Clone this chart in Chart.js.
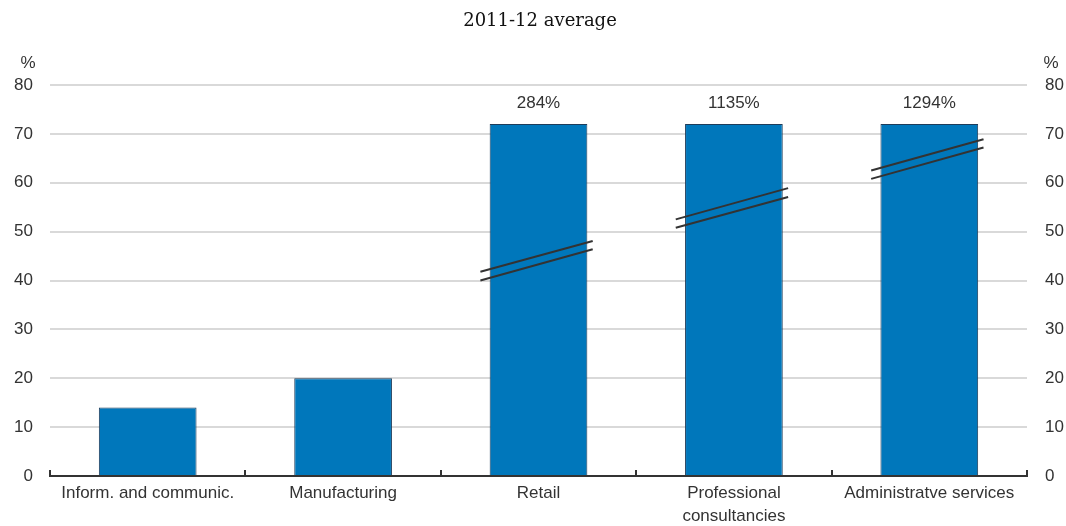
<!DOCTYPE html>
<html>
<head>
<meta charset="utf-8">
<script src="https://cdn.jsdelivr.net/npm/chart.js@4.4.1/dist/chart.umd.min.js"></script>
<style>
  html, body { margin: 0; padding: 0; background: #fff; }
  #wrap { width: 1066px; height: 526px; position: relative; }
</style>
</head>
<body>
<div id="wrap"><canvas id="c" width="1066" height="526"></canvas></div>
<script>
// ---- data ----
const categories = ['Inform. and communic.', 'Manufacturing', 'Retail', ['Professional', 'consultancies'], 'Administratve services'];
const values = [14, 20, 284, 1135, 1294];          // % (2011-12 average)
const axisCap = 72;                                  // bars above the axis are drawn truncated at this value
const yTicks = [0, 10, 20, 30, 40, 50, 60, 70, 80];
// break marks (y values at left and right end of each line), lower and upper line
const breakLower = [null, null, [40.0, 46.4], [50.8, 57.1], [60.8, 67.2]];
const breakUpper = [null, null, [41.8, 48.1], [52.5, 58.9], [62.5, 68.9]];
const subtitleText = '2011-12 average';
const unitLabel = '%';

const shownValues = values.map(v => Math.min(v, axisCap));
const FONT = '"Liberation Sans", Arial, sans-serif';
const FS = 17;
const TXT = '#333333';

const decor = {
  id: 'decor',
  afterDatasetsDraw(chart) {
    const ctx = chart.ctx;
    const x = chart.scales.x, y = chart.scales.y;
    const meta = chart.getDatasetMeta(0);
    ctx.save();
    // break marks
    ctx.strokeStyle = '#333333';
    ctx.lineWidth = 2;
    meta.data.forEach((bar, i) => {
      [breakLower[i], breakUpper[i]].forEach(seg => {
        if (!seg) return;
        const w = bar.width;
        const x0 = bar.x - w * 0.595, x1 = bar.x + w * 0.555;
        ctx.beginPath();
        ctx.moveTo(x0, y.getPixelForValue(seg[0]));
        ctx.lineTo(x1, y.getPixelForValue(seg[1]));
        ctx.stroke();
      });
    });
    // value labels for truncated bars
    ctx.fillStyle = TXT;
    ctx.font = FS + 'px ' + FONT;
    ctx.textAlign = 'center';
    ctx.textBaseline = 'middle';
    meta.data.forEach((bar, i) => {
      if (values[i] > axisCap) {
        ctx.fillText(values[i] + '%', bar.x, y.getPixelForValue(axisCap) - 21);
      }
    });
    // upward tick marks at category boundaries
    const n = categories.length;
    ctx.lineWidth = 2;
    for (let i = 0; i <= n; i++) {
      const px = Math.round(x.getPixelForValue(i - 0.5));
      ctx.beginPath();
      ctx.moveTo(px, chart.chartArea.bottom);
      ctx.lineTo(px, chart.chartArea.bottom - 6);
      ctx.stroke();
    }
    // unit labels
    ctx.textAlign = 'center';
    const ty = y.getPixelForValue(80) - 22;
    ctx.fillText(unitLabel, 28, ty);
    ctx.fillText(unitLabel, 1051, ty);
    ctx.restore();
  }
};

new Chart(document.getElementById('c'), {
  type: 'bar',
  data: {
    labels: categories,
    datasets: [{
      data: shownValues,
      backgroundColor: '#0077bb',
      borderColor: '#1e3c5a',
      borderWidth: 1,
      borderSkipped: 'bottom',
      barPercentage: 0.5,
      categoryPercentage: 1.0
    }]
  },
  options: {
    responsive: false,
    animation: false,
    devicePixelRatio: 1,
    layout: { padding: { left: 14, right: 0, top: 0, bottom: 0 } },
    plugins: {
      legend: { display: false },
      tooltip: { enabled: false },
      title: {
        display: true,
        text: subtitleText,
        color: '#111111',
        font: { family: '"DejaVu Serif", serif', size: 18, weight: 'normal', lineHeight: 1.2 },
        padding: { top: 11, bottom: 52.4 }
      }
    },
    scales: {
      x: {
        offset: true,
        grid: { display: false, drawTicks: false },
        border: { display: true, color: '#333333', width: 2 },
        ticks: { color: TXT, font: { family: FONT, size: FS, lineHeight: 1.35 }, padding: 6, maxRotation: 0, autoSkip: false },
        afterFit(s) { s.height = 50; }
      },
      y: {
        position: 'left',
        min: 0, max: 80,
        afterBuildTicks(s) { s.ticks = yTicks.map(v => ({ value: v })); },
        grid: { color: '#d9d9d9', lineWidth: 2, drawTicks: false },
        border: { display: false },
        ticks: { color: TXT, font: { family: FONT, size: FS }, padding: 17 },
        afterFit(s) { s.width = 36; }
      },
      y2: {
        position: 'right',
        min: 0, max: 80,
        afterBuildTicks(s) { s.ticks = yTicks.map(v => ({ value: v })); },
        grid: { display: false, drawTicks: false },
        border: { display: false },
        ticks: { color: TXT, font: { family: FONT, size: FS }, padding: 18 },
        afterFit(s) { s.width = 39; }
      }
    }
  },
  plugins: [decor]
});
</script>
</body>
</html>
